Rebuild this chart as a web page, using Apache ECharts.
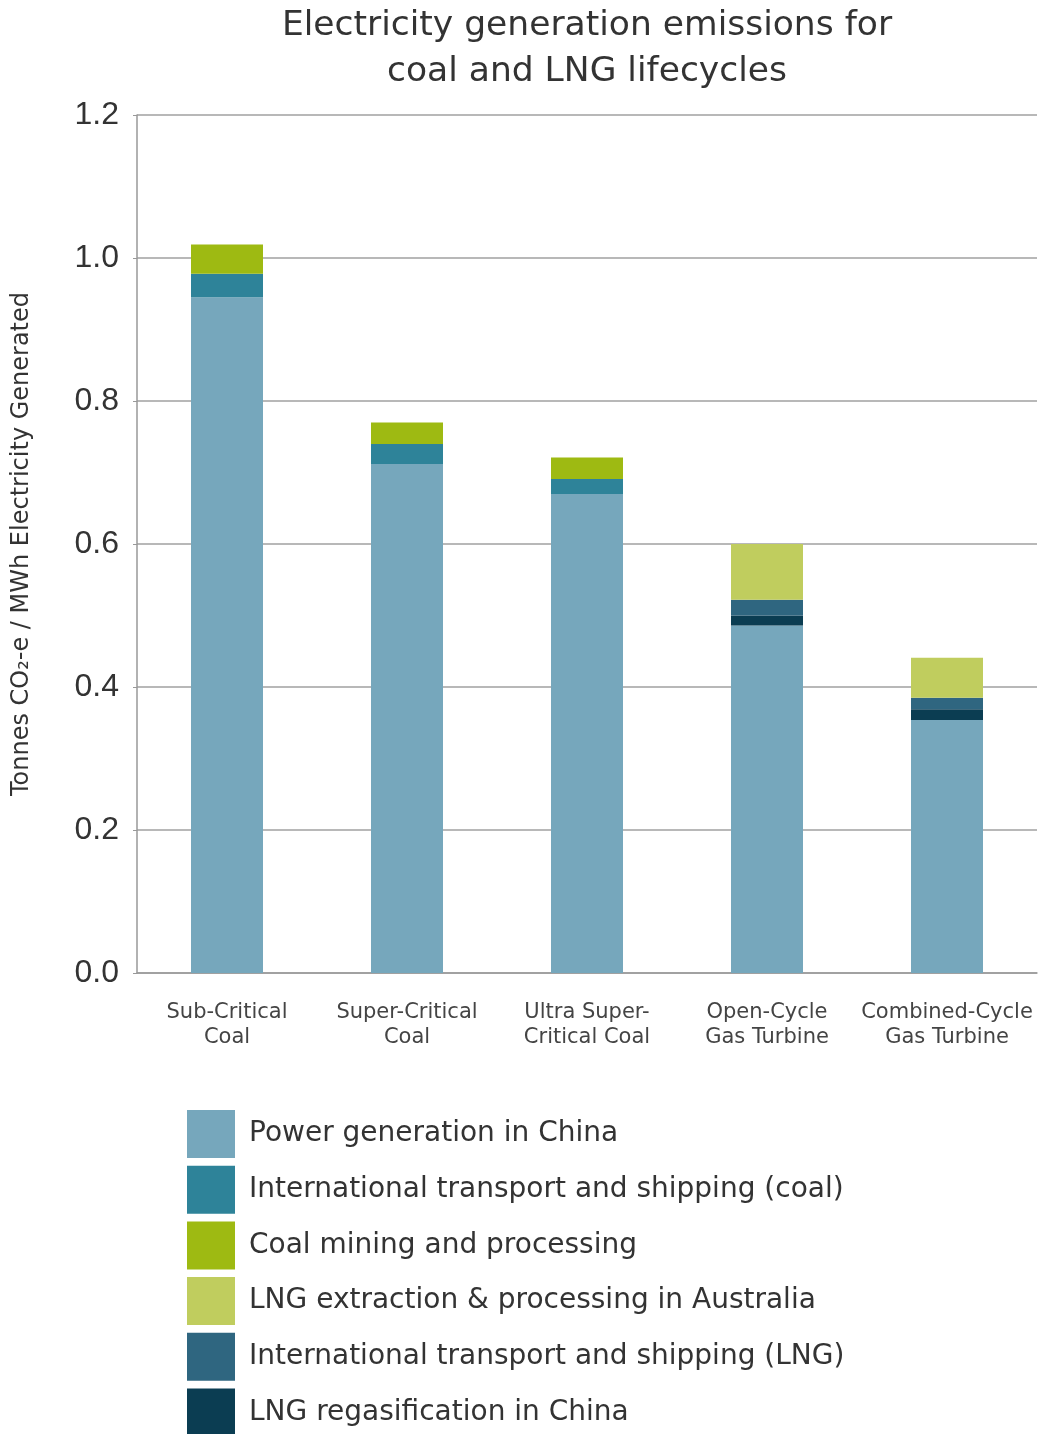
<!DOCTYPE html>
<html>
<head>
<meta charset="utf-8">
<script src="https://cdn.jsdelivr.net/npm/echarts@6/dist/echarts.min.js"></script>
<style>
html,body{margin:0;padding:0;background:#fff;}
#chart{width:1047px;height:1434px;}
</style>
</head>
<body>
<div id="chart"></div>
<script>
const categories = ['Sub-Critical\nCoal', 'Super-Critical\nCoal', 'Ultra Super-\nCritical Coal', 'Open-Cycle\nGas Turbine', 'Combined-Cycle\nGas Turbine'];
const powerGeneration = [0.945, 0.712, 0.670, 0.486, 0.354];
const coalTransport = [0.033, 0.028, 0.021, 0, 0];
const coalMining = [0.041, 0.030, 0.030, 0, 0];
const lngRegas = [0, 0, 0, 0.014, 0.015];
const lngTransport = [0, 0, 0, 0.022, 0.016];
const lngExtraction = [0, 0, 0, 0.078, 0.056];
const yTicks = [0, 0.2, 0.4, 0.6, 0.8, 1.0, 1.2];

const FONT = '"DejaVu Sans", sans-serif';
const chart = echarts.init(document.getElementById('chart'));

function bar(name, data, color) {
  return {
    name: name, type: 'bar', stack: 'total', data: data, barWidth: 72,
    itemStyle: { color: color }, emphasis: { disabled: true }
  };
}

const seriesList = [
  bar('Power generation in China', powerGeneration, '#76a7bc'),
  bar('International transport and shipping (coal)', coalTransport, '#2e8399'),
  bar('Coal mining and processing', coalMining, '#9eba12'),
  bar('LNG regasification in China', lngRegas, '#0b3d52'),
  bar('International transport and shipping (LNG)', lngTransport, '#2f6680'),
  bar('LNG extraction & processing in Australia', lngExtraction, '#c0cd5e')
];

chart.setOption({
  animation: false,
  backgroundColor: '#ffffff',
  title: {
    text: 'Electricity generation emissions for\ncoal and LNG lifecycles',
    left: 582, top: -2, textAlign: 'center',
    textStyle: { fontFamily: FONT, fontSize: 34.5, fontWeight: 'normal', color: '#333', lineHeight: 46 }
  },
  grid: { left: 137, top: 115, width: 900, height: 858, containLabel: false },
  legend: {
    orient: 'vertical', left: 187, top: 1110, height: 360, padding: 0,
    itemWidth: 48, itemHeight: 48, itemGap: 7.7,
    icon: 'rect', selectedMode: false,
    data: [
      'Power generation in China',
      'International transport and shipping (coal)',
      'Coal mining and processing',
      'LNG extraction & processing in Australia',
      'International transport and shipping (LNG)',
      'LNG regasification in China'
    ],
    textStyle: { fontFamily: FONT, fontSize: 28, color: '#333', padding: [0, 0, 0, 9] }
  },
  xAxis: {
    type: 'category', data: categories,
    axisLine: { lineStyle: { color: '#999', width: 1.5 } },
    axisTick: { show: false },
    axisLabel: { fontFamily: FONT, fontSize: 21, color: '#444', lineHeight: 25, margin: 27, interval: 0 }
  },
  yAxis: {
    type: 'value', min: 0, max: 1.2, interval: 0.2,
    name: 'Tonnes CO₂-e / MWh Electricity Generated',
    nameLocation: 'middle', nameGap: 103, nameRotate: 90,
    nameTextStyle: { fontFamily: FONT, fontSize: 24, color: '#333' },
    axisLine: { show: true, lineStyle: { color: '#999', width: 1.5 } },
    axisTick: { show: true, length: 4, lineStyle: { color: '#999' } },
    splitLine: { lineStyle: { color: '#a0a0a0', width: 1.5 } },
    axisLabel: {
      fontFamily: '"Liberation Sans", Arial, sans-serif', fontSize: 32, color: '#333', margin: 18,
      formatter: function (v) { return v.toFixed(1); }
    }
  },
  series: seriesList
});
</script>
</body>
</html>
